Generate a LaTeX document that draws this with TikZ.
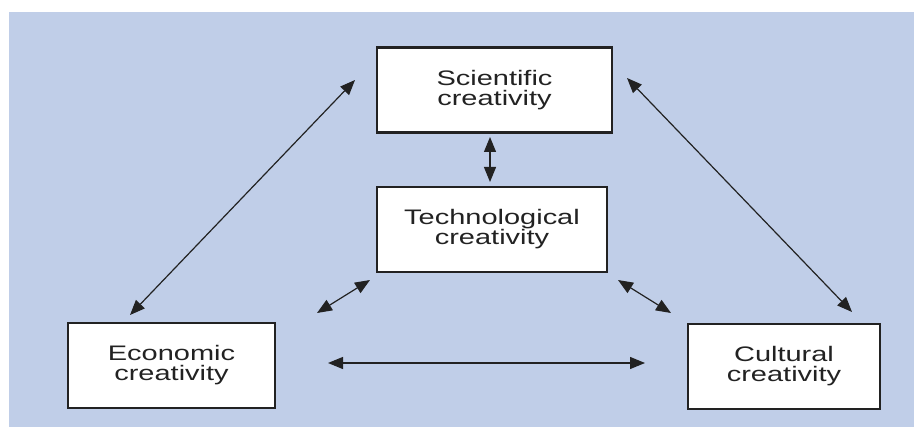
\documentclass[tikz,border=0pt]{standalone}
\usepackage{fontspec}
\setmainfont[FakeStretch=1.38]{Liberation Sans}
\usetikzlibrary{positioning}
\usetikzlibrary{arrows.meta}
\definecolor{panelblue}{HTML}{C0CEE8}
\definecolor{inkgray}{HTML}{222222}

\begin{document}
\begin{tikzpicture}[x=0.5pt,y=-0.5pt]
\tikzset{cbox/.style={rectangle,draw=inkgray,line width=1.2pt,fill=white,minimum height=42.5pt,align=center,text=inkgray,font=\fontsize{10.5}{10}\selectfont}}
\tikzset{link/.style={draw=inkgray,line width=0.6pt,{Triangle[length=7.5pt,width=6pt]}-{Triangle[length=7.5pt,width=6pt]}}}
\useasboundingbox (0,0) rectangle (914,427);
\fill[panelblue] (9,12) rectangle (914,427);
% the four kinds of creativity
\node[cbox,minimum width=117.5pt] (sci) at (494.5,90) {Scientific\\creativity};
\node[cbox,minimum width=115pt] (tech) at (492,229.5) {Technological\\creativity};
\node[cbox,minimum width=103.5pt] (eco) at (171.5,365.5) {Economic\\creativity};
\node[cbox,minimum width=96pt] (cul) at (784,366.5) {Cultural\\creativity};
% free ends of the arrows
\coordinate (sciL) at (355,80);
\coordinate (ecoT) at (130,315);
\coordinate (sciR) at (627,78);
\coordinate (culT) at (852,312);
\coordinate (sciB) at (490,137);
\coordinate (techT) at (490,182);
\coordinate (techL) at (370,280);
\coordinate (ecoR) at (317,313);
\coordinate (techR) at (618,280);
\coordinate (culL) at (671,313);
\coordinate (ecoM) at (328,363);
\coordinate (culM) at (645,363);
\draw[link] (sciL) -- (ecoT);
\draw[link] (sciR) -- (culT);
\draw[link] (sciB) -- (techT);
\draw[link] (techL) -- (ecoR);
\draw[link] (techR) -- (culL);
\draw[link] (ecoM) -- (culM);
\end{tikzpicture}
\end{document}
